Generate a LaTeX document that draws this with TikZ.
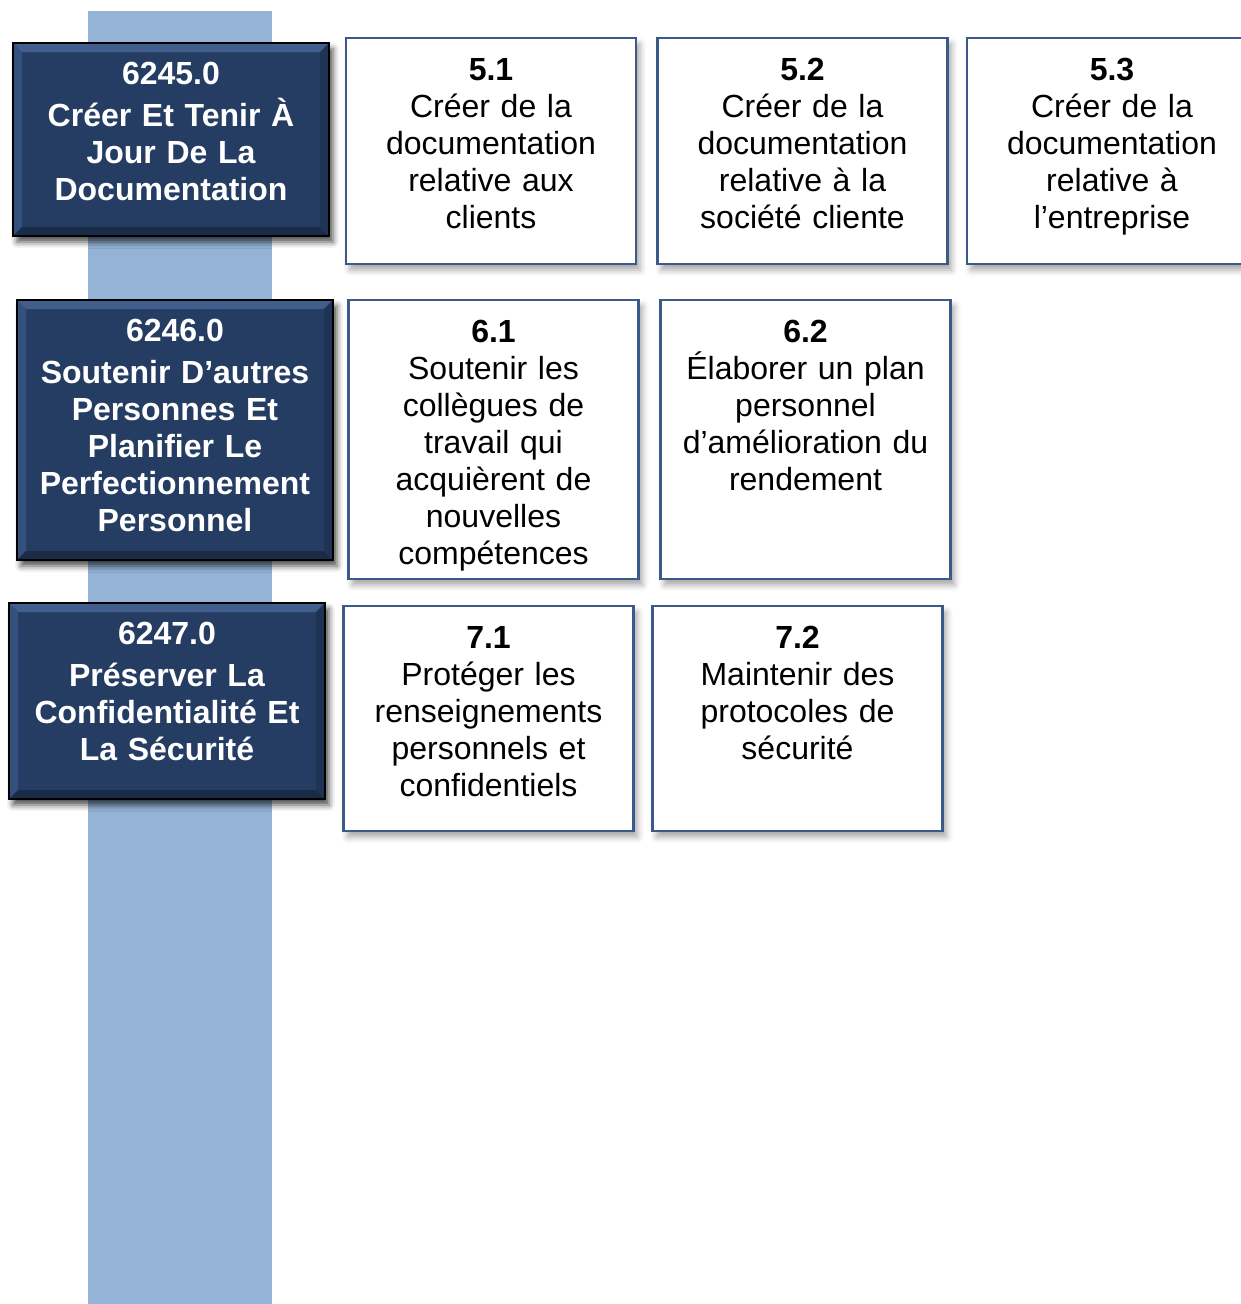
\documentclass[tikz,border=0pt]{standalone}
\usepackage{fontspec}
\setmainfont{Liberation Sans}
\usetikzlibrary{shadows.blur}
\definecolor{barblue}{HTML}{95B3D7}
\definecolor{navy}{HTML}{263D63}
\definecolor{bevtop}{HTML}{415E8C}
\definecolor{bevleft}{HTML}{34507C}
\definecolor{bevbot}{HTML}{1A2B47}
\definecolor{bevright}{HTML}{1F3354}
\definecolor{boxline}{HTML}{3B5A8A}

\begin{document}
\begin{tikzpicture}[x=1pt,y=-1pt,
  every node/.style={font=\fontsize{32}{37}\selectfont},
  darkbox/.style={fill=navy, draw=black, line width=2pt, inner sep=0pt,
    minimum width=316pt,
    blur shadow={shadow xshift=4pt, shadow yshift=-6pt, shadow blur radius=6pt, shadow opacity=70},
    path picture={
      \coordinate (nw) at (path picture bounding box.north west);
      \coordinate (ne) at (path picture bounding box.north east);
      \coordinate (sw) at (path picture bounding box.south west);
      \coordinate (se) at (path picture bounding box.south east);
      \fill[bevtop] (nw) -- (ne) -- ([shift={(-9pt,-9pt)}]ne) -- ([shift={(9pt,-9pt)}]nw) -- cycle;
      \fill[bevleft] (nw) -- (sw) -- ([shift={(9pt,9pt)}]sw) -- ([shift={(9pt,-9pt)}]nw) -- cycle;
      \fill[bevbot] (sw) -- (se) -- ([shift={(-9pt,9pt)}]se) -- ([shift={(9pt,9pt)}]sw) -- cycle;
      \fill[bevright] (ne) -- (se) -- ([shift={(-9pt,9pt)}]se) -- ([shift={(-9pt,-9pt)}]ne) -- cycle;
    }},
  whitebox/.style={fill=white, draw=boxline, line width=2.2pt, inner sep=0pt,
    minimum width=290pt,
    blur shadow={shadow xshift=4pt, shadow yshift=-6pt, shadow blur radius=6pt, shadow opacity=35}},
  boxtext/.style={anchor=north, yshift=-21pt, inner sep=0pt, align=center, text width=290pt},
  darktext/.style={anchor=north, yshift=-19.5pt, inner sep=0pt, align=center, text=white,
    font=\fontsize{32}{37}\selectfont\bfseries, text width=316pt},
  ]
\clip (0,0) rectangle (1241,1304);
\fill[barblue] (88,11) rectangle (272,1310);

\node[darkbox, minimum height=193pt] (d1) at (171,139.5) {};
\node[darktext] (l1) at (d1.north) {6245.0\\[5pt]Créer Et Tenir À\\Jour De La\\Documentation};
\node[darkbox, minimum height=260pt] (d2) at (175,430) {};
\node[darktext] (l2) at (d2.north) {6246.0\\[5pt]Soutenir D’autres\\Personnes Et\\Planifier Le\\Perfectionnement\\Personnel};
\node[darkbox, minimum height=196pt] (d3) at (167,701) {};
\node[darktext] (l3) at (d3.north) {6247.0\\[5pt]Préserver La\\Confidentialité Et\\La Sécurité};

\node[whitebox, minimum height=226pt] (b51) at (491,151) {};
\node[boxtext] (t51) at (b51.north) {\textbf{5.1}\\Créer de la\\documentation\\relative aux\\clients};
\node[whitebox, minimum height=226pt] (b52) at (802.5,151) {};
\node[boxtext] (t52) at (b52.north) {\textbf{5.2}\\Créer de la\\documentation\\relative à la\\société cliente};
\node[whitebox, minimum height=226pt] (b53) at (1112,151) {};
\node[boxtext] (t53) at (b53.north) {\textbf{5.3}\\Créer de la\\documentation\\relative à\\l’entreprise};

\node[whitebox, minimum height=279pt] (b61) at (493.5,439.5) {};
\node[boxtext] (t61) at (b61.north) {\textbf{6.1}\\Soutenir les\\collègues de\\travail qui\\acquièrent de\\nouvelles\\compétences};
\node[whitebox, minimum height=279pt] (b62) at (805.5,439.5) {};
\node[boxtext] (t62) at (b62.north) {\textbf{6.2}\\Élaborer un plan\\personnel\\d’amélioration du\\rendement};

\node[whitebox, minimum height=225pt] (b71) at (488.5,718.5) {};
\node[boxtext] (t71) at (b71.north) {\textbf{7.1}\\Protéger les\\renseignements\\personnels et\\confidentiels};
\node[whitebox, minimum height=225pt] (b72) at (797.5,718.5) {};
\node[boxtext] (t72) at (b72.north) {\textbf{7.2}\\Maintenir des\\protocoles de\\sécurité};
\end{tikzpicture}
\end{document}
